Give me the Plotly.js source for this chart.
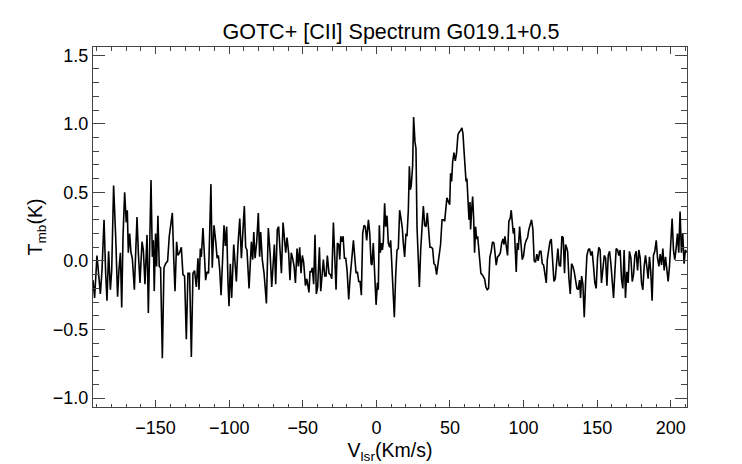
<!DOCTYPE html>
<html>
<head>
<meta charset="utf-8">
<script src="https://cdn.plot.ly/plotly-3.0.1.min.js"></script>
<style>html,body{margin:0;padding:0;background:#fff;}#chart{width:742px;height:464px;}</style>
</head>
<body>
<div id="chart"></div>
<script>
// Velocity (km/s) and main-beam temperature (K)
const velocity = [
-192.5,-191.4,-189.8,-188.4,-187.5,-186.4,-185.0,-183.9,-183.0,-181.9,-180.7,-179.8,-178.5,-177.1,-175.8,-174.9,-173.9,-173.0,-172.1,-171.0,
-169.9,-169.2,-168.5,-167.6,-166.7,-165.8,-164.4,-163.5,-162.6,-161.7,-160.6,-159.2,-158.3,-157.2,-155.8,-154.9,-154.0,-153.1,-152.2,-151.5,
-150.9,-150.0,-149.3,-148.4,-147.5,-146.6,-145.4,-144.3,-143.2,-141.8,-140.7,-139.8,-138.6,-137.7,-136.8,-135.7,-134.8,-133.7,-132.5,-131.4,
-130.3,-129.1,-128.0,-126.9,-125.7,-124.6,-123.5,-122.3,-121.2,-120.5,-119.6,-118.9,-117.8,-116.9,-116.0,-115.1,-114.0,-113.3,-112.4,-111.5,
-110.3,-109.1,-108.2,-107.3,-106.4,-105.5,-104.4,-103.5,-102.6,-101.7,-100.8,-100.1,-99.2,-98.3,-96.9,-96.0,-95.1,-94.0,-92.8,-91.7,
-90.6,-89.7,-88.8,-87.9,-86.5,-85.6,-84.9,-84.0,-83.3,-82.4,-81.3,-80.2,-79.3,-78.6,-77.5,-76.3,-74.7,-73.4,-72.2,-71.1,
-70.2,-69.3,-68.4,-67.3,-66.4,-65.5,-64.5,-63.4,-62.5,-61.6,-60.7,-59.6,-58.7,-57.8,-56.9,-55.9,-55.0,-53.9,-53.0,-52.1,
-51.2,-50.3,-49.4,-48.2,-47.3,-46.7,-45.8,-45.1,-44.4,-43.5,-42.6,-41.7,-40.8,-39.9,-38.7,-37.8,-36.9,-36.0,-35.1,-34.2,
-33.3,-32.2,-31.2,-30.3,-29.2,-28.3,-27.4,-26.5,-25.6,-24.9,-24.2,-23.3,-22.6,-21.7,-20.8,-19.9,-18.8,-17.9,-16.8,-15.6,
-14.7,-13.8,-12.9,-12.0,-11.1,-10.2,-9.3,-8.4,-7.5,-6.6,-5.4,-4.5,-3.6,-3.0,-2.1,-1.1,-0.2,0.7,1.3,2.0,
2.7,3.4,4.1,4.7,5.6,6.3,7.2,8.1,9.0,9.7,10.6,11.5,12.2,13.1,14.0,14.9,15.8,16.7,17.6,18.3,
19.2,20.1,20.8,21.7,22.4,23.1,23.7,24.6,25.3,26.2,26.9,27.6,28.5,29.2,30.1,31.0,31.9,32.8,33.7,34.6,
35.5,36.4,37.3,38.2,39.1,40.0,40.9,41.8,42.7,43.6,44.6,45.5,46.4,47.3,47.9,49.8,50.4,51.1,51.8,52.7,
53.6,54.5,55.4,56.3,57.2,58.1,58.8,59.5,60.2,60.9,61.5,62.2,62.9,63.6,64.0,64.7,65.4,66.1,66.7,67.4,
68.1,68.8,69.7,70.4,71.0,71.9,72.6,73.5,74.4,75.3,76.2,77.1,78.0,78.9,79.9,80.8,81.4,82.3,83.3,84.2,
85.1,86.0,86.7,87.3,88.2,89.1,90.0,90.9,91.6,92.3,93.0,93.7,94.3,95.0,95.7,96.4,97.3,98.2,99.1,100.0,
100.9,101.8,102.7,103.6,104.5,105.4,106.3,107.2,108.1,109.0,109.9,110.9,111.8,112.7,113.6,114.5,115.4,116.1,117.0,117.9,
118.8,119.7,120.6,121.5,122.4,123.3,124.2,125.1,126.0,126.9,127.8,128.5,129.2,129.9,130.8,131.7,132.6,133.5,134.4,135.3,
136.2,137.1,138.0,138.7,139.4,140.3,141.2,142.1,143.0,143.9,144.8,145.7,146.6,147.5,148.4,149.3,150.2,151.1,152.0,152.9,
153.8,154.8,155.7,156.6,157.5,158.4,159.3,160.2,161.1,162.0,162.9,163.8,164.7,165.6,166.5,167.4,168.3,169.2,170.1,171.0,
171.9,172.9,173.8,174.7,175.6,176.5,177.4,178.3,179.2,180.1,181.0,181.9,182.8,183.7,184.6,185.5,186.4,187.3,188.2,189.1,
190.1,191.0,191.9,192.8,193.7,194.6,195.5,196.4,197.3,198.2,199.1,200.0,200.9,201.8,202.7,203.6,204.5,205.4,206.3,207.2,
208.1,209.0,209.9,210.8
];
const tmb = [
-0.14,-0.27,0.04,-0.14,-0.24,-0.07,0.30,-0.09,-0.29,0.07,-0.21,-0.07,0.55,0.18,-0.26,-0.07,0.06,-0.34,0.18,0.50,
0.28,0.37,0.06,0.20,0.06,0.02,-0.21,0.06,0.32,0.06,-0.16,0.14,0.08,-0.17,0.19,-0.38,0.06,0.59,0.03,0.15,
-0.22,0.20,-0.04,0.33,-0.04,-0.05,-0.71,-0.05,-0.02,0.00,0.18,0.25,0.35,0.03,-0.22,0.14,0.04,0.06,0.10,-0.10,
-0.11,-0.57,-0.09,-0.09,-0.70,-0.09,-0.07,-0.19,0.02,-0.21,0.09,0.03,0.24,0.06,-0.14,-0.08,-0.09,0.18,0.56,-0.05,
0.26,0.14,0.02,0.04,-0.07,-0.25,0.12,0.26,0.11,0.25,-0.16,-0.33,-0.02,-0.27,0.12,-0.04,-0.15,0.12,0.31,0.02,
0.24,0.40,0.10,0.08,-0.20,0.01,0.14,0.01,0.21,0.02,0.14,0.35,0.03,0.21,0.01,-0.09,-0.31,0.24,0.06,-0.19,
-0.04,0.12,-0.17,0.23,0.25,0.06,-0.09,0.28,0.19,0.06,0.17,0.06,-0.14,0.06,0.02,-0.04,-0.16,0.09,-0.04,0.10,
-0.09,0.04,-0.01,-0.18,-0.13,-0.16,-0.23,-0.08,-0.08,-0.05,-0.17,0.19,-0.24,-0.19,0.10,-0.22,-0.09,0.01,-0.11,-0.11,
0.04,-0.09,-0.10,-0.13,0.28,0.03,-0.21,0.13,0.12,0.01,0.18,0.14,0.18,0.02,0.02,-0.07,-0.28,-0.13,0.00,0.15,
0.03,-0.09,-0.08,-0.15,-0.15,-0.25,0.20,0.26,0.25,0.15,0.30,0.20,-0.02,-0.03,0.13,-0.13,-0.32,-0.16,-0.21,0.26,
0.06,0.13,0.08,0.14,0.42,0.25,0.33,0.13,0.10,0.15,-0.04,-0.22,-0.41,-0.11,0.08,0.09,0.37,0.31,0.24,0.13,
0.03,0.20,0.18,0.37,0.69,0.52,0.55,0.69,1.05,0.87,0.82,0.25,-0.11,-0.19,0.08,0.27,0.40,0.26,0.25,0.35,
0.23,0.10,0.10,0.09,-0.02,-0.03,-0.10,-0.02,0.08,0.12,0.30,0.30,0.29,0.40,0.46,0.41,0.64,0.58,0.72,0.79,
0.73,0.79,0.92,0.94,0.95,0.97,0.93,0.81,0.71,0.58,0.60,0.43,0.30,0.43,0.23,0.37,0.47,0.30,0.06,0.25,
0.16,0.18,0.09,0.01,-0.09,-0.10,-0.11,-0.13,-0.19,-0.21,-0.20,0.03,0.07,0.14,0.13,0.01,-0.03,0.03,0.04,0.06,
0.13,0.16,0.12,0.18,0.10,0.04,0.29,0.31,0.37,0.30,0.20,0.24,0.10,-0.08,0.13,0.08,0.25,0.13,0.01,0.04,
0.12,0.15,0.17,0.23,0.27,0.30,0.23,0.00,-0.01,0.05,0.00,0.07,0.07,-0.02,-0.03,-0.10,-0.16,0.01,0.08,0.14,
0.16,-0.02,-0.15,-0.13,0.01,0.09,-0.03,-0.04,0.18,0.17,-0.09,0.12,0.10,0.07,-0.13,-0.24,-0.02,-0.04,-0.08,-0.15,
-0.20,-0.21,-0.14,-0.27,-0.11,-0.17,-0.41,-0.16,0.04,0.08,0.09,0.04,0.07,-0.04,-0.16,-0.20,0.02,0.10,0.08,-0.16,
-0.08,0.04,0.02,-0.18,0.04,0.07,-0.02,-0.14,-0.27,-0.08,0.09,0.08,0.04,0.08,-0.13,-0.20,0.08,-0.27,-0.08,-0.16,
0.07,0.02,-0.15,-0.10,0.04,0.07,-0.07,0.08,0.02,-0.16,-0.21,-0.04,0.04,-0.04,-0.13,0.03,-0.08,-0.29,0.04,0.07,
0.15,0.02,-0.04,0.05,-0.03,0.09,-0.07,0.03,-0.04,-0.15,-0.04,0.12,0.31,0.08,0.01,0.09,0.20,0.06,0.36,0.06,
0.20,-0.02,0.08,0.06
];

const xTickVals = [-150,-100,-50,0,50,100,150,200];
const xTickText = ['\u2212150','\u2212100','\u221250','0','50','100','150','200'];
const yTickVals = [-1.0,-0.5,0.0,0.5,1.0,1.5];
const yTickText = ['\u22121.0','\u22120.5','0.0','0.5','1.0','1.5'];

const font = 'Liberation Sans, Arial, Helvetica, sans-serif';
const axisColor = '#444';

const trace = {
  x: velocity, y: tmb, type: 'scatter', mode: 'lines',
  line: {color: '#000', width: 1.6}, hoverinfo: 'x+y'
};

const layout = {
  width: 742, height: 464,
  margin: {l: 93, r: 55, t: 47, b: 57},
  paper_bgcolor: '#fff', plot_bgcolor: '#fff',
  showlegend: false,
  font: {family: font, color: '#000', size: 18},
  title: {text: 'GOTC+ [CII] Spectrum G019.1+0.5', font: {family: font, size: 21.5, color: '#000'},
          x: 0.527, xanchor: 'center', y: 0.932, yanchor: 'middle', yref: 'container'},
  xaxis: {
    range: [-192.5, 211], tickmode: 'array', tickvals: xTickVals, ticktext: xTickText,
    ticks: 'inside', ticklen: 7, tickwidth: 1, tickcolor: axisColor,
    showline: true, linecolor: axisColor, linewidth: 1, mirror: 'ticks',
    showgrid: false, zeroline: false, ticklabelstandoff: 4,
    minor: {dtick: 10, ticks: 'inside', ticklen: 3.5, tickwidth: 1, tickcolor: axisColor, showgrid: false},
    tickfont: {family: font, size: 18, color: '#000'},
    title: {text: 'V<sub>lsr</sub>(Km/s)', font: {family: font, size: 19.5, color: '#000'}, standoff: 6}
  },
  yaxis: {
    range: [-1.065, 1.56], tickmode: 'array', tickvals: yTickVals, ticktext: yTickText,
    ticks: 'inside', ticklen: 12, tickwidth: 1, tickcolor: axisColor,
    showline: true, linecolor: axisColor, linewidth: 1, mirror: 'ticks',
    showgrid: false, zeroline: false,
    minor: {dtick: 0.1, ticks: 'inside', ticklen: 6, tickwidth: 1, tickcolor: axisColor, showgrid: false},
    tickfont: {family: font, size: 18, color: '#000'},
    title: {text: 'T<sub>mb</sub>(K)', font: {family: font, size: 19.5, color: '#000'}, standoff: 5}
  }
};

Plotly.newPlot('chart', [trace], layout, {displayModeBar: false, staticPlot: true});
</script>
</body>
</html>
